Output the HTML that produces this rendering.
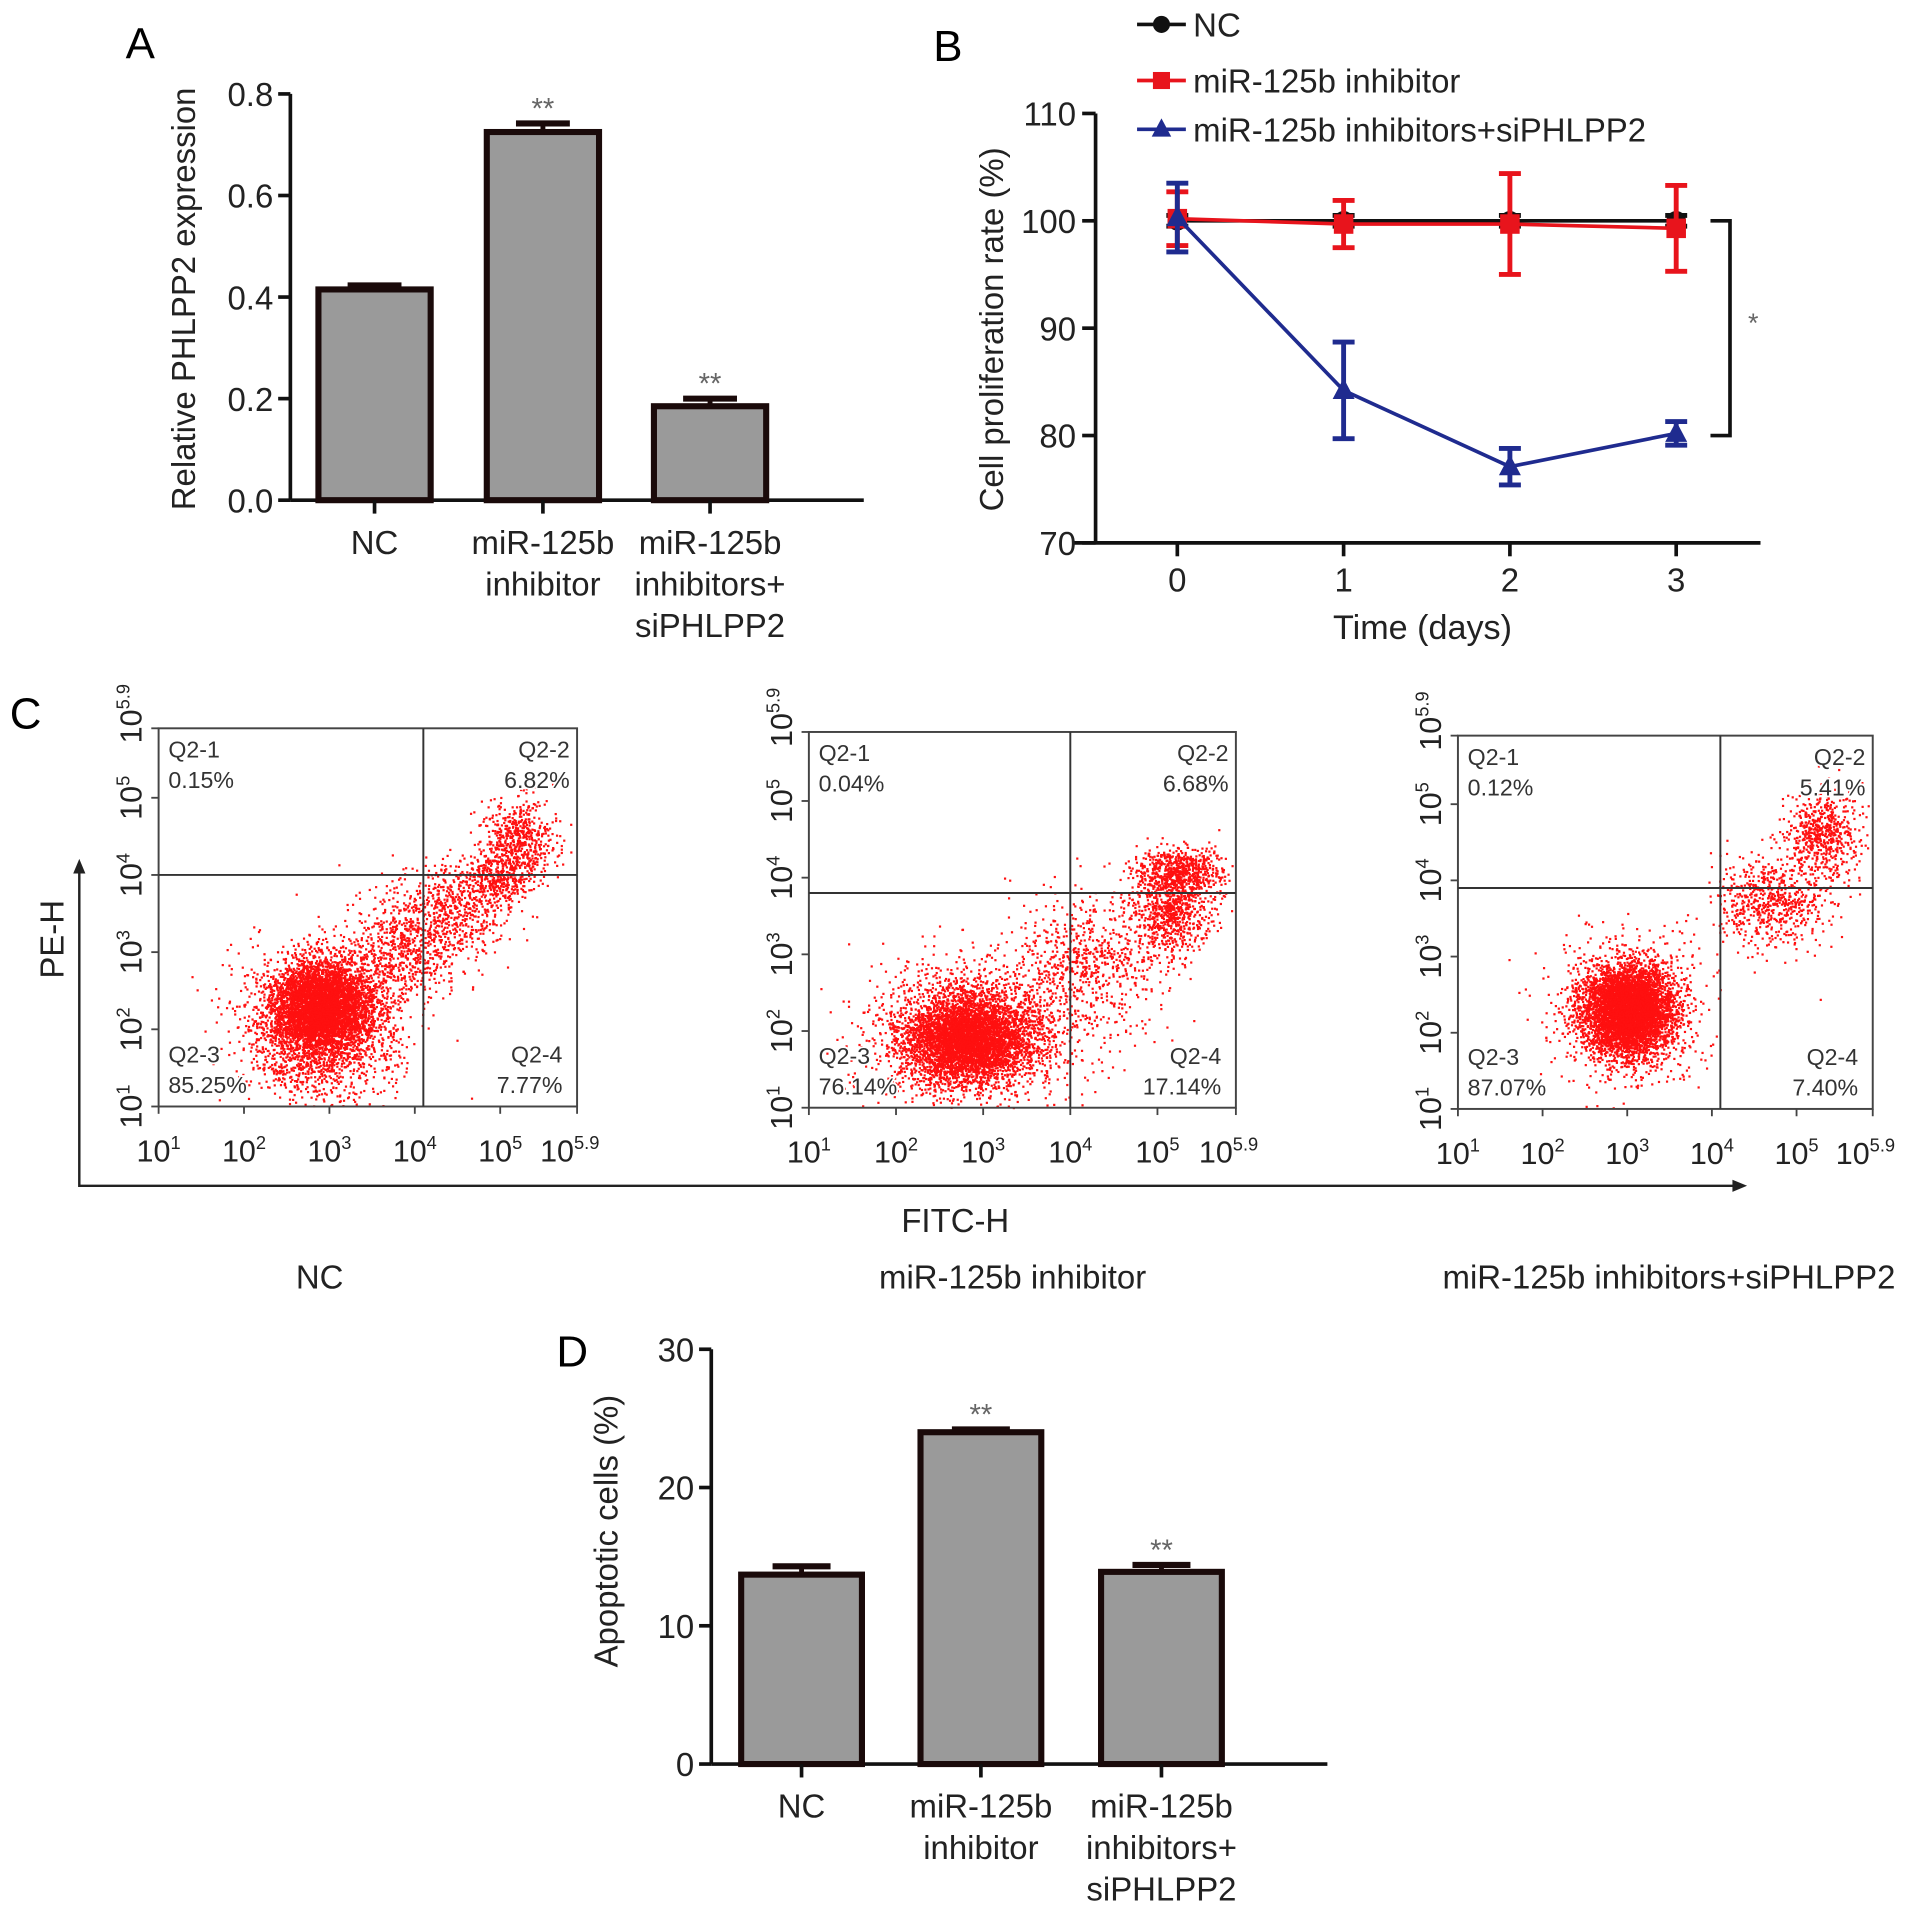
<!DOCTYPE html>
<html><head><meta charset="utf-8">
<style>
html,body{margin:0;padding:0;background:#fff;}
svg{display:block;font-family:"Liberation Sans",Arial,sans-serif;}
</style></head>
<body>
<svg id="fig" width="1913" height="1908" viewBox="0 0 1568 1564" preserveAspectRatio="none" xmlns="http://www.w3.org/2000/svg">
<rect width="1568" height="1564" fill="#fff"/>
<g id="gA"></g>
<g id="gB"></g>
<g id="gC"></g>
<g id="gD"></g>
</svg>
<script>
// Panel A data
const aCategories = [["NC"],["miR-125b","inhibitor"],["miR-125b","inhibitors+","siPHLPP2"]];
const aValues = [0.415, 0.725, 0.185];
const aErrors = [0.008, 0.017, 0.015];
const aStars = ["", "**", "**"];
const aTicks = [0, 0.2, 0.4, 0.6, 0.8];
const aTickLabels = ["0.0","0.2","0.4","0.6","0.8"];
// Panel B data
const bDays = [0, 1, 2, 3];
const bSeriesNames = ["NC","miR-125b inhibitor","miR-125b inhibitors+siPHLPP2"];
const bNC = [100, 100, 100, 100];
const bNCerr = [0.5, 0.5, 0.5, 0.5];
const bInh = [100.2, 99.7, 99.7, 99.3];
const bInhErr = [2.5, 2.2, 4.7, 4.0];
const bSi = [100.3, 84.2, 77.1, 80.2];
const bSiErr = [3.2, 4.5, 1.7, 1.1];
const bTicks = [70, 80, 90, 100, 110];
// Panel C data (log10 units)
const cTitles = ["NC","miR-125b inhibitor","miR-125b inhibitors+siPHLPP2"];
const cQuadLabels = [["0.15%","6.82%","85.25%","7.77%"],["0.04%","6.68%","76.14%","17.14%"],["0.12%","5.41%","87.07%","7.40%"]];
const cGateX = [4.1, 4.0, 4.1];
const cGateY = [4.0, 3.8, 3.9];
// clusters: [cx, cy, sx, sy, count]
const cClusters1 = [[2.9,2.3,0.3,0.3,4500],[2.9,2.0,0.45,0.5,1800],[3.9,3.1,0.35,0.35,700],[4.5,3.6,0.3,0.3,500],[5.2,4.45,0.22,0.28,600],[4.95,3.95,0.2,0.15,300]];
const cClusters2 = [[2.8,1.9,0.35,0.28,4200],[2.9,2.0,0.6,0.45,1800],[5.15,3.55,0.22,0.25,700],[5.25,4.1,0.25,0.15,700],[4.2,2.9,0.45,0.45,700]];
const cClusters3 = [[3.0,2.3,0.25,0.28,4800],[3.0,2.3,0.4,0.45,1200],[5.3,4.6,0.22,0.28,600],[4.7,3.7,0.35,0.3,650]];
// Panel D data
const dCategories = [["NC"],["miR-125b","inhibitor"],["miR-125b","inhibitors+","siPHLPP2"]];
const dValues = [13.7, 24.0, 13.9];
const dErrors = [0.6, 0.2, 0.5];
const dStars = ["", "**", "**"];
const dTicks = [0, 10, 20, 30];

const NS = "http://www.w3.org/2000/svg";
function mk(parent, tag, attrs, text){
  const e = document.createElementNS(NS, tag);
  for (const k in attrs) e.setAttribute(k, attrs[k]);
  if (text !== undefined) e.textContent = text;
  parent.appendChild(e);
  return e;
}

function barPanel(g, cats, vals, errs, stars, ticks, tickLbls, ax, title, letter){
  const y = v => ax.y0 - (v - ax.vmin) / (ax.vmax - ax.vmin) * (ax.y0 - ax.y1);
  const xc = i => ax.xs[i];
  let l = mk(g,'text',{x:ax.lx,y:ax.ly,'font-size':36},letter);
  
  
  let yl = mk(g,'line',{x1:ax.x0,y1:ax.y1,x2:ax.x0,y2:ax.y0,stroke:'#111','stroke-width':3});
  
  
  let xl = mk(g,'line',{x1:ax.x0,y1:ax.y0,x2:ax.xEnd,y2:ax.y0,stroke:'#111','stroke-width':3});
  
  
  ticks.forEach((t,i)=>{
    mk(g,'line',{x1:ax.x0-10,y1:y(t),x2:ax.x0,y2:y(t),stroke:'#111','stroke-width':3});
    let tl = mk(g,'text',{x:ax.x0-14,y:y(t)+10,'font-size':27,'text-anchor':'end',fill:'#222'},tickLbls[i]);
    
    
  });
  let tt = mk(g,'text',{x:0,y:0,'font-size':27,'text-anchor':'middle',fill:'#222',transform:`translate(${ax.tx},${ax.ty}) rotate(-90)`},title);
  
  
  vals.forEach((v,i)=>{
    const c = xc(i), hw = ax.bw/2;
    const top = y(v+errs[i]);
    mk(g,'line',{x1:c,y1:y(v),x2:c,y2:top,stroke:'#1a0a0a','stroke-width':4});
    mk(g,'line',{x1:c-hw*0.48,y1:top,x2:c+hw*0.48,y2:top,stroke:'#1a0a0a','stroke-width':5});
    let b = mk(g,'rect',{x:c-hw,y:y(v),width:ax.bw,height:ax.y0-y(v),fill:'#9a9a9a',stroke:'#1a0a0a','stroke-width':5});
    
    
    mk(g,'line',{x1:c,y1:ax.y0,x2:c,y2:ax.y0+11,stroke:'#111','stroke-width':3});
    if (stars[i]) {
      let s = mk(g,'text',{x:c,y:top-4,'font-size':24,'text-anchor':'middle',fill:'#666'},stars[i]);
      
      
    }
    cats[i].forEach((line,j)=>{
      let t = mk(g,'text',{x:c,y:ax.y0+44+j*34,'font-size':27,'text-anchor':'middle',fill:'#222'},line);
      
      
    });
  });
}

barPanel(document.getElementById('gA'), aCategories, aValues, aErrors, aStars, aTicks, aTickLabels,
  {x0:238,xEnd:708,y0:410,y1:77,vmin:0,vmax:0.8,xs:[307,445,582],bw:92,lx:103,ly:48,tx:160,ty:245},
  "Relative PHLPP2 expression","A");
barPanel(document.getElementById('gD'), dCategories, dValues, dErrors, dStars, dTicks, dTicks.map(String),
  {x0:583,xEnd:1088,y0:1446,y1:1106,vmin:0,vmax:30,xs:[657,804,952],bw:99,lx:456,ly:1120,tx:506,ty:1255},
  "Apoptotic cells (%)","D");

// Panel B
(function(){
  const g = document.getElementById('gB');
  const x0=898, xEnd=1443, y0=445, y1=93;
  const y = v => y0 - (v-70)/40*(y0-y1);
  const x = d => 965 + d*136.3;
  let l = mk(g,'text',{x:765,y:50,'font-size':36},"B");
  
  
  mk(g,'line',{x1:x0,y1:y1,x2:x0,y2:y0,stroke:'#111','stroke-width':3});
  mk(g,'line',{x1:880,y1:y0,x2:xEnd,y2:y0,stroke:'#111','stroke-width':3});
  bTicks.forEach(t=>{
    mk(g,'line',{x1:x0-11,y1:y(t),x2:x0,y2:y(t),stroke:'#111','stroke-width':3});
    let tl = mk(g,'text',{x:x0-16,y:y(t)+10,'font-size':27,'text-anchor':'end',fill:'#222'},String(t));
    
    
  });
  bDays.forEach(d=>{
    mk(g,'line',{x1:x(d),y1:y0,x2:x(d),y2:y0+11,stroke:'#111','stroke-width':3});
    let tl = mk(g,'text',{x:x(d),y:y0+40,'font-size':27,'text-anchor':'middle',fill:'#222'},String(d));
    
    
  });
  let xt = mk(g,'text',{x:1166,y:524,'font-size':28,'text-anchor':'middle',fill:'#222'},"Time (days)");
  
  
  let yt = mk(g,'text',{x:0,y:0,'font-size':27,'text-anchor':'middle',fill:'#222',transform:'translate(822,270) rotate(-90)'},"Cell proliferation rate (%)");
  
  
  const series = [[bNC,bNCerr,'#111','circle'],[bInh,bInhErr,'#e8141c','square'],[bSi,bSiErr,'#1f2b8f','tri']];
  series.forEach((s,k)=>{
    const [vals,errs,col,shape] = s;
    const sg = mk(g,'g',{});
    
    
    mk(sg,'polyline',{points:vals.map((v,i)=>x(bDays[i])+','+y(v)).join(' '),fill:'none',stroke:col,'stroke-width':3});
    vals.forEach((v,i)=>{
      const cx=x(bDays[i]), cy=y(v);
      mk(sg,'line',{x1:cx,y1:y(v-errs[i]),x2:cx,y2:y(v+errs[i]),stroke:col,'stroke-width':4});
      mk(sg,'line',{x1:cx-9,y1:y(v-errs[i]),x2:cx+9,y2:y(v-errs[i]),stroke:col,'stroke-width':4});
      mk(sg,'line',{x1:cx-9,y1:y(v+errs[i]),x2:cx+9,y2:y(v+errs[i]),stroke:col,'stroke-width':4});
      let m;
      if (shape==='circle') m = mk(sg,'circle',{cx:cx,cy:cy,r:8,fill:col});
      else if (shape==='square') m = mk(sg,'rect',{x:cx-8,y:cy-8,width:16,height:16,fill:col});
      else m = mk(sg,'polygon',{points:`${cx},${cy-10} ${cx-9},${cy+7} ${cx+9},${cy+7}`,fill:col});
      
      
    });
  });
  mk(g,'polyline',{points:`1402,${y(100)} 1418,${y(100)} 1418,${y(80)} 1402,${y(80)}`,fill:'none',stroke:'#111','stroke-width':3});
  let st = mk(g,'text',{x:1437,y:272,'font-size':22,'text-anchor':'middle',fill:'#666'},"*");
  
  
  const ly=[20,66,106];
  series.forEach((s,k)=>{
    const lg = mk(g,'g',{});
    
    
    const col=s[2], cy=ly[k], cx=952;
    mk(lg,'line',{x1:932,y1:cy,x2:972,y2:cy,stroke:col,'stroke-width':3});
    if (s[3]==='circle') mk(lg,'circle',{cx:cx,cy:cy,r:7,fill:col});
    else if (s[3]==='square') mk(lg,'rect',{x:cx-7,y:cy-7,width:14,height:14,fill:col});
    else mk(lg,'polygon',{points:`${cx},${cy-9} ${cx-8},${cy+6} ${cx+8},${cy+6}`,fill:col});
    mk(lg,'text',{x:978,y:cy+10,'font-size':27,fill:'#222'},bSeriesNames[k]);
  });
})();

// Panel C
(function(){
  const g = document.getElementById('gC');
  let l = mk(g,'text',{x:8,y:597,'font-size':36},"C");
  
  
  let s = 12345;
  function rnd(){ s|=0; s=s+0x6D2B79F5|0; let t=Math.imul(s^s>>>15,1|s); t=t+Math.imul(t^t>>>7,61|t)^t; return ((t^t>>>14)>>>0)/4294967296; }
  function gauss(){ let u=rnd()||1e-9, v=rnd(); return Math.sqrt(-2*Math.log(u))*Math.cos(2*Math.PI*v); }
  const boxes = [[130,597,473,907],[663,600,1013,908],[1195,603,1535,909]];
  const clusterSets = [cClusters1,cClusters2,cClusters3];
  const sup = (base,e)=>`<tspan>${base}</tspan><tspan dy="-10" font-size="15">${e}</tspan>`;
  boxes.forEach((b,p)=>{
    const pg = mk(g,'g',{});
    
    
    const [L,T,R,B] = b;
    const X = v => L + (v-1)/4.9*(R-L);
    const Y = v => B - (v-1)/4.9*(B-T);
    const dots = mk(pg,'g',{fill:'#ff1010'});
    
    
    clusterSets[p].forEach(c=>{
      for (let i=0;i<c[4];i++){
        const vx = c[0]+gauss()*c[2], vy = c[1]+gauss()*c[3];
        if (vx<1||vx>5.85||vy<1||vy>5.85) continue;
        mk(dots,'rect',{x:X(vx).toFixed(1),y:Y(vy).toFixed(1),width:1.8,height:1.8});
      }
    });
    mk(pg,'rect',{x:L,y:T,width:R-L,height:B-T,fill:'none',stroke:'#444','stroke-width':1.6});
    mk(pg,'line',{x1:X(cGateX[p]),y1:T,x2:X(cGateX[p]),y2:B,stroke:'#333','stroke-width':1.6});
    mk(pg,'line',{x1:L,y1:Y(cGateY[p]),x2:R,y2:Y(cGateY[p]),stroke:'#333','stroke-width':1.6});
    const q = cQuadLabels[p];
    const qt = [["Q2-1",q[0],L+8,T+24,'start'],["Q2-2",q[1],R-6,T+24,'end'],["Q2-3",q[2],L+8,B-36,'start'],["Q2-4",q[3],R-12,B-36,'end']];
    qt.forEach(a=>{
      const t1 = mk(pg,'text',{x:a[2],y:a[3],'font-size':19,'text-anchor':a[4],fill:'#333',stroke:'#fff','stroke-width':3,'paint-order':'stroke'},a[0]);
      
      
      const t2 = mk(pg,'text',{x:a[2],y:a[3]+25,'font-size':19,'text-anchor':a[4],fill:'#333',stroke:'#fff','stroke-width':3,'paint-order':'stroke'},a[1]);
      
      
    });
    const decs = [1,2,3,4,5,5.9];
    decs.forEach(d=>{
      mk(pg,'line',{x1:X(d),y1:B,x2:X(d),y2:B+6,stroke:'#444','stroke-width':1.5});
      mk(pg,'line',{x1:L-6,y1:Y(d),x2:L,y2:Y(d),stroke:'#444','stroke-width':1.5});
      const tx = mk(pg,'text',{x:X(d)-(d===5.9?6:0),y:B+45,'font-size':25,'text-anchor':'middle',fill:'#222'});
      tx.innerHTML = sup('10', d===5.9?'5.9':String(d));
      
      
      const ty = mk(pg,'text',{x:0,y:0,'font-size':25,'text-anchor':'middle',fill:'#222',transform:`translate(${L-14},${Y(d)+(d===5.9?-12:0)}) rotate(-90)`});
      ty.innerHTML = sup('10', d===5.9?'5.9':String(d));
      
      
    });
    const ct = mk(g,'text',{x:[262,830,1368][p],y:1056,'font-size':27,'text-anchor':'middle',fill:'#222'},cTitles[p]);
    
    
  });
  mk(g,'polyline',{points:'65,712 65,972 1424,972',fill:'none',stroke:'#222','stroke-width':2});
  mk(g,'polygon',{points:'65,704 60,716 70,716',fill:'#222'});
  mk(g,'polygon',{points:'1432,972 1420,967 1420,977',fill:'#222'});
  const ph = mk(g,'text',{x:0,y:0,'font-size':27,'text-anchor':'middle',fill:'#222',transform:'translate(52,770) rotate(-90)'},"PE-H");
  
  
  const fh = mk(g,'text',{x:783,y:1010,'font-size':27,'text-anchor':'middle',fill:'#222'},"FITC-H");
  
  
})();
</script>
</body></html>
